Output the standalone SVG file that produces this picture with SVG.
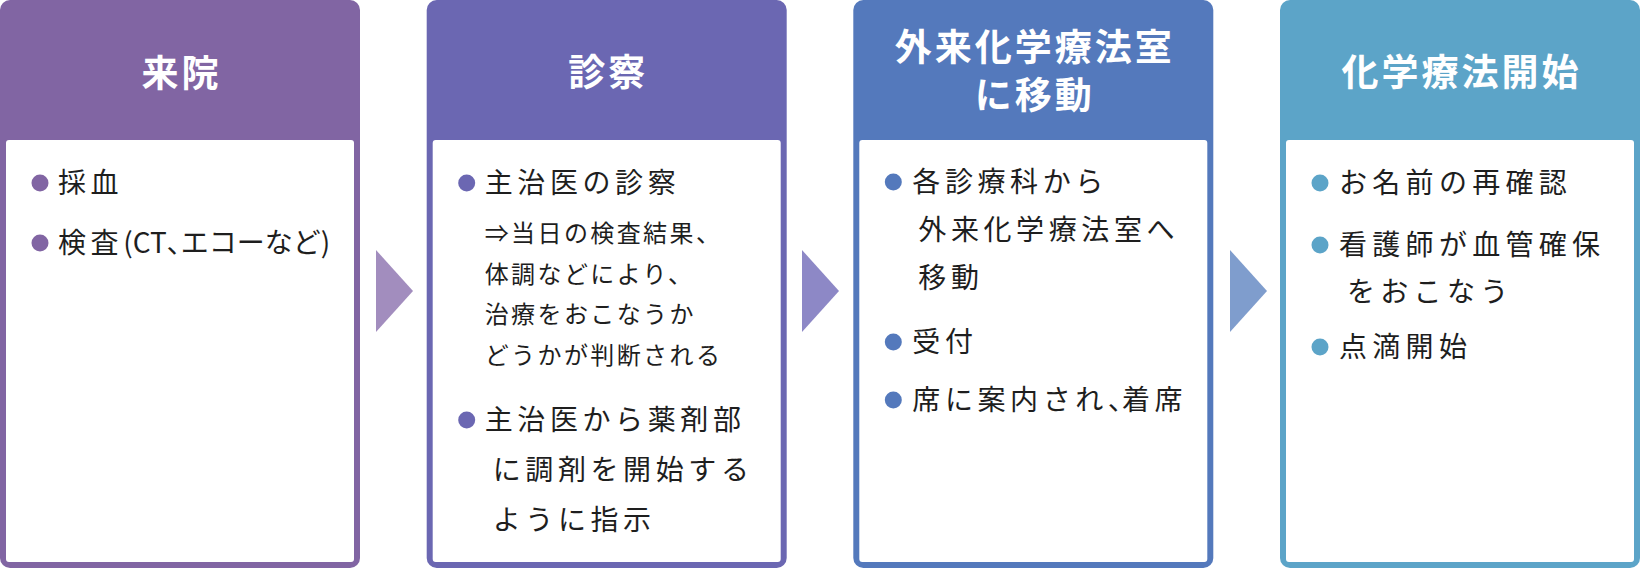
<svg xmlns="http://www.w3.org/2000/svg" width="1640" height="570" viewBox="0 0 1640 570">
<style>
.hd{font-family:"Noto Sans CJK JP","Noto Sans",sans-serif;font-weight:700;font-size:37px;fill:#fff;text-anchor:middle;letter-spacing:3px}
.tx{font-family:"Noto Sans CJK JP","Noto Sans",sans-serif;font-weight:400;font-size:28px;fill:#1e1e1e;letter-spacing:4.6px}
.w{letter-spacing:5.3px}
.sm{font-family:"Noto Sans CJK JP","Noto Sans",sans-serif;font-weight:400;font-size:24px;fill:#1e1e1e;letter-spacing:2.4px}
.p{font-feature-settings:"palt";letter-spacing:0}
.in{fill:#fff}
</style>
<rect width="1640" height="570" fill="#fff"/>
<g id="connectors">
<polygon points="376,250 413,291 376,332" fill="#a28dbe"/>
<polygon points="802,250 839,291 802,332" fill="#8d88c6"/>
<polygon points="1230,250 1267,291 1230,332" fill="#7f9dcd"/>
</g>
<g id="node-raiin" transform="translate(0,0)">
<rect x="0" y="0" width="360" height="568" rx="10" fill="#8165a3"/>
<rect class="in" x="6" y="140" width="348" height="422" rx="3"/>
<text class="hd" x="181.5" y="87">来院</text>
<circle cx="40" cy="183" r="8.5" fill="#8165a3"/>
<text class="tx" x="58" y="193">採血</text>
<circle cx="40" cy="243" r="8.5" fill="#8165a3"/>
<text class="tx" x="58" y="253">検査<tspan class="p">(CT、</tspan><tspan letter-spacing="0">エコーなど)</tspan></text>
</g>
<g id="node-shinsatsu" transform="translate(426.7,0)">
<rect x="0" y="0" width="360" height="568" rx="10" fill="#6b67b2"/>
<rect class="in" x="6" y="140" width="348" height="422" rx="3"/>
<text class="hd" x="181.5" y="86">診察</text>
<circle cx="40" cy="183" r="8.5" fill="#6b67b2"/>
<text class="tx" x="58" y="193">主治医の診察</text>
<text class="sm" x="58" y="242">⇒当日の検査結果、</text>
<text class="sm" x="58" y="282.5">体調などにより、</text>
<text class="sm" x="58" y="323">治療をおこなうか</text>
<text class="sm" x="58" y="363.5">どうかが判断される</text>
<circle cx="40" cy="420" r="8.5" fill="#6b67b2"/>
<text class="tx" x="58" y="430">主治医から薬剤部</text>
<text class="tx" x="66" y="480">に調剤を開始する</text>
<text class="tx" x="66" y="530">ように指示</text>
</g>
<g id="node-idou" transform="translate(853.3,0)">
<rect x="0" y="0" width="360" height="568" rx="10" fill="#5479bc"/>
<rect class="in" x="6" y="140" width="348" height="422" rx="3"/>
<text class="hd" x="181.5" y="61">外来化学療法室<tspan x="181.5" dy="48">に移動</tspan></text>
<circle cx="40" cy="182" r="8.5" fill="#5479bc"/>
<text class="tx" x="59" y="192">各診療科から</text>
<text class="tx" x="65" y="240">外来化学療法室へ</text>
<text class="tx" x="65" y="288">移動</text>
<circle cx="40" cy="342" r="8.5" fill="#5479bc"/>
<text class="tx" x="59" y="352">受付</text>
<circle cx="40" cy="400" r="8.5" fill="#5479bc"/>
<text class="tx" x="59" y="410">席に案内され<tspan class="p">、</tspan>着席</text>
</g>
<g id="node-kaishi" transform="translate(1280,0)">
<rect x="0" y="0" width="360" height="568" rx="10" fill="#5ca4c8"/>
<rect class="in" x="6" y="140" width="348" height="422" rx="3"/>
<text class="hd" x="181.5" y="86">化学療法開始</text>
<circle cx="40" cy="183" r="8.5" fill="#5ca4c8"/>
<text class="tx w" x="59" y="193">お名前の再確認</text>
<circle cx="40" cy="245" r="8.5" fill="#5ca4c8"/>
<text class="tx w" x="59" y="255">看護師が血管確保</text>
<text class="tx w" x="67" y="302">をおこなう</text>
<circle cx="40" cy="347" r="8.5" fill="#5ca4c8"/>
<text class="tx w" x="59" y="357">点滴開始</text>
</g>
</svg>
